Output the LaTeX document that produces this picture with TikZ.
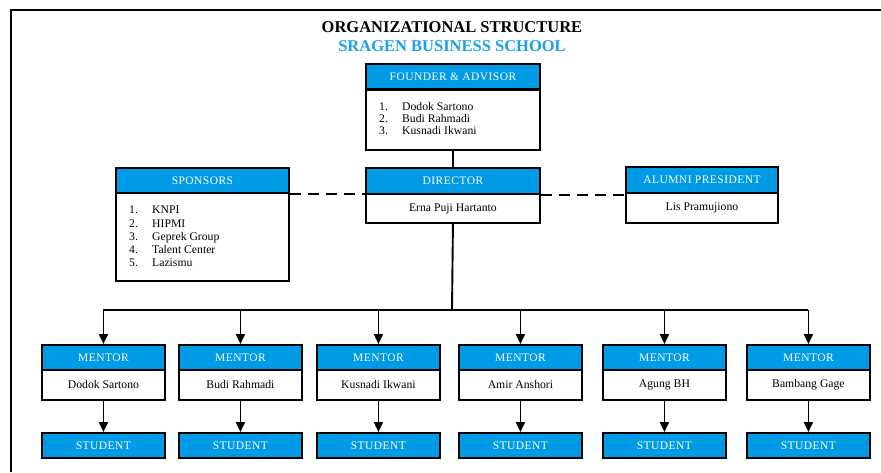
\documentclass[tikz,border=0pt]{standalone}
\usepackage{fontspec}
\setmainfont{Liberation Serif}
\usetikzlibrary{arrows.meta}
\definecolor{sbblue}{RGB}{0,155,230}
\definecolor{titleblue}{RGB}{25,160,235}
\newcommand\hdrfont{\fontsize{11.5}{13}\selectfont\addfontfeatures{LetterSpace=4}}
\newcommand\bodyfnt{\fontsize{11.7}{12.5}\selectfont}
\newcommand\titlefnt{\fontsize{16.5}{19}\selectfont\bfseries}
\tikzset{
  hdr/.style={draw, line width=1.9pt, fill=sbblue, text=white, minimum height=25, inner sep=0pt, font=\hdrfont, anchor=north west},
  bodybox/.style={draw, line width=1.9pt, fill=white, inner sep=0pt, font=\bodyfnt, anchor=north west},
  listtext/.style={inner sep=0pt, align=left, anchor=north west},
  link/.style={line width=1.9pt},
  dashlink/.style={line width=2.8pt, dash pattern=on 11pt off 7pt},
  arr/.style={line width=1.9pt, -{Triangle[width=9pt,length=10pt]}},
}
\begin{document}
\begin{tikzpicture}[x=1pt,y=-1pt]
\useasboundingbox (0,0) rectangle (881,472);
% page frame
\draw[line width=1.8pt] (11,472) coordinate (frA) -- (11,10) coordinate (frB) -- (881,10) coordinate (frC);
% title
\node[font=\titlefnt, anchor=base] (t1) at (452,32) {ORGANIZATIONAL STRUCTURE};
\node[font=\titlefnt, text=titleblue, anchor=base] (t2) at (452,51) {SRAGEN BUSINESS SCHOOL};
% founder
\node[hdr, minimum width=174] (fh) at (365,63) {FOUNDER \& ADVISOR};
\node[bodybox, minimum width=174, minimum height=60] (fb) at (365,89) {};
\node[listtext, font={\fontsize{11.7}{12.3}\selectfont}] (fl) at (379,102)
  {\makebox[23pt][l]{1.}Dodok Sartono\\\makebox[23pt][l]{2.}Budi Rahmadi\\\makebox[23pt][l]{3.}Kusnadi Ikwani};
% director
\node[hdr, minimum width=174, minimum height=26] (dh) at (365,167) {DIRECTOR};
\node[bodybox, minimum width=174, minimum height=29] (db) at (365,193) {Erna Puji Hartanto};
% sponsors
\node[hdr, minimum width=173] (sh) at (115,167) {SPONSORS};
\node[bodybox, minimum width=173, minimum height=88] (sb) at (115,192) {};
\node[listtext, font={\fontsize{11.7}{13.2}\selectfont}] (sl) at (129,206)
  {\makebox[23pt][l]{1.}KNPI\\\makebox[23pt][l]{2.}HIPMI\\\makebox[23pt][l]{3.}Geprek Group\\\makebox[23pt][l]{4.}Talent Center\\\makebox[23pt][l]{5.}Lazismu};
% alumni
\node[hdr, minimum width=152, minimum height=26] (ah) at (625,166) {ALUMNI PRESIDENT};
\node[bodybox, minimum width=152, minimum height=30] (ab) at (625,192) {Lis Pramujiono};
% connectors top
\draw[link] (fb.south) -- (dh.north);
\draw[dashlink] (sh.south east) -- (sh.south east -| dh.west);
\draw[dashlink] (dh.south east) -- (dh.south east -| ah.west);
\coordinate (bus) at (452,310);
\draw[link] (db.south) -- (bus);
% mentors and students
\foreach \i/\x/\who in {1/41/Dodok Sartono, 2/178/Budi Rahmadi, 3/316/Kusnadi Ikwani, 4/458/Amir Anshori, 5/602/Agung BH, 6/746/Bambang Gage}{
  \node[hdr, minimum width=123] (m\i h) at (\x,344) {MENTOR};
  \node[bodybox, minimum width=123, minimum height=30] (m\i b) at (\x,369) {\who};
  \node[hdr, minimum width=123] (s\i) at (\x,432) {STUDENT};
  \draw[arr] (m\i h.north |- bus) -- (m\i h.north);
  \draw[arr] (m\i b.south) -- (s\i.north);
}
\draw[link] (m1h.north |- bus) -- (m6h.north |- bus);
\end{tikzpicture}
\end{document}
